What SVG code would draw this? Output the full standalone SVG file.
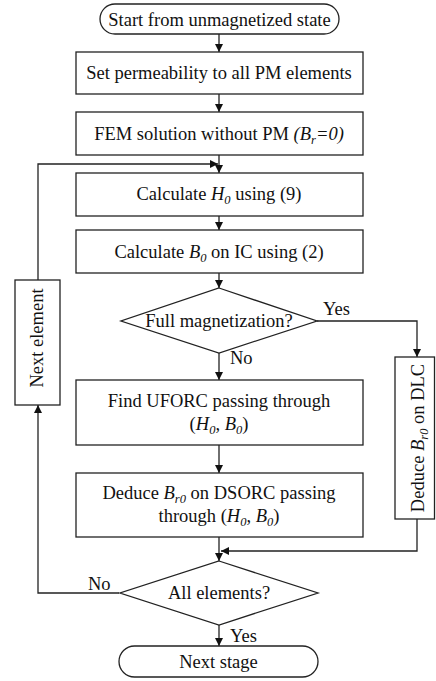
<svg xmlns="http://www.w3.org/2000/svg" width="436" height="681" viewBox="0 0 436 681">
  <defs>
    <marker id="arrow" viewBox="0 0 10 10" refX="10" refY="5" markerWidth="8" markerHeight="8" markerUnits="userSpaceOnUse" orient="auto">
      <path d="M0,0 L10,5 L0,10 z" fill="#111"/>
    </marker>
    <style>
      .shape { fill: #fff; stroke: #222; stroke-width: 1.3; }
      .line { fill: none; stroke: #222; stroke-width: 1.3; }
      .t { font-family: "Liberation Serif", "Times New Roman", serif; font-size: 18.5px; fill: #111; }
      .c { text-anchor: middle; }
      .i { font-style: italic; }
      .sub { font-size: 12.5px; font-style: italic; }
    </style>
  </defs>

  <rect width="436" height="681" fill="#fff"/>

  <!-- connectors -->
  <g id="connectors">
    <line class="line" x1="219" y1="34" x2="219" y2="52" marker-end="url(#arrow)"/>
    <line class="line" x1="219" y1="94" x2="219" y2="112" marker-end="url(#arrow)"/>
    <line class="line" x1="219" y1="155" x2="219" y2="173" marker-end="url(#arrow)"/>
    <line class="line" x1="219" y1="216" x2="219" y2="230" marker-end="url(#arrow)"/>
    <line class="line" x1="219" y1="273" x2="219" y2="288" marker-end="url(#arrow)"/>
    <line class="line" x1="219" y1="353" x2="219" y2="380" marker-end="url(#arrow)"/>
    <line class="line" x1="219" y1="445" x2="219" y2="473" marker-end="url(#arrow)"/>
    <line class="line" x1="219" y1="537" x2="219" y2="561" marker-end="url(#arrow)"/>
    <line class="line" x1="219" y1="625" x2="219" y2="646" marker-end="url(#arrow)"/>
    <!-- Yes branch to the DLC box -->
    <polyline class="line" points="317,321 417,321 417,357" marker-end="url(#arrow)"/>
    <!-- DLC box back to the merge point -->
    <polyline class="line" points="417,519 417,551 221,551" marker-end="url(#arrow)"/>
    <!-- No branch of the loop -->
    <polyline class="line" points="119,593 38,593 38,405" marker-end="url(#arrow)"/>
    <polyline class="line" points="38,280 38,164 218,164" marker-end="url(#arrow)"/>
    <text class="t" x="323" y="315">Yes</text>
    <text class="t" x="230" y="364">No</text>
    <text class="t" x="88" y="590">No</text>
    <text class="t" x="230" y="642">Yes</text>
  </g>

  <g id="start">
    <rect class="shape" x="100" y="4" width="239" height="30" rx="15" ry="15"/>
    <text class="t c" x="219.5" y="26">Start from unmagnetized state</text>
  </g>

  <g id="set-permeability">
    <rect class="shape" x="76" y="52" width="287" height="42"/>
    <text class="t c" x="219" y="79">Set permeability to all PM elements</text>
  </g>

  <g id="fem-solution">
    <rect class="shape" x="76" y="112" width="287" height="43"/>
    <text class="t c" x="219" y="140">FEM solution without PM <tspan class="i">(B</tspan><tspan class="sub" dy="4">r</tspan><tspan class="i" dy="-4">=0)</tspan></text>
  </g>

  <g id="calc-h0">
    <rect class="shape" x="76" y="173" width="287" height="43"/>
    <text class="t c" x="219" y="200">Calculate <tspan class="i">H</tspan><tspan class="sub" dy="4">0</tspan><tspan dy="-4"> using (9)</tspan></text>
  </g>

  <g id="calc-b0">
    <rect class="shape" x="76" y="230" width="287" height="43"/>
    <text class="t c" x="219" y="258">Calculate <tspan class="i">B</tspan><tspan class="sub" dy="4">0</tspan><tspan dy="-4"> on IC using (2)</tspan></text>
  </g>

  <g id="full-magnetization">
    <polygon class="shape" points="219,288 317,321 219,353 121,321"/>
    <text class="t c" x="219" y="327">Full magnetization?</text>
  </g>

  <g id="find-uforc">
    <rect class="shape" x="76" y="380" width="287" height="65"/>
    <text class="t c" x="219" y="407">Find UFORC passing through</text>
    <text class="t c" x="219" y="430">(<tspan class="i">H</tspan><tspan class="sub" dy="4">0</tspan><tspan dy="-4">, </tspan><tspan class="i">B</tspan><tspan class="sub" dy="4">0</tspan><tspan dy="-4">)</tspan></text>
  </g>

  <g id="deduce-dsorc">
    <rect class="shape" x="76" y="473" width="287" height="64"/>
    <text class="t c" x="219" y="499">Deduce <tspan class="i">B</tspan><tspan class="sub" dy="4">r0</tspan><tspan dy="-4"> on DSORC passing</tspan></text>
    <text class="t c" x="219" y="522">through (<tspan class="i">H</tspan><tspan class="sub" dy="4">0</tspan><tspan dy="-4">, </tspan><tspan class="i">B</tspan><tspan class="sub" dy="4">0</tspan><tspan dy="-4">)</tspan></text>
  </g>

  <g id="deduce-dlc">
    <rect class="shape" x="395" y="357" width="39.5" height="162"/>
    <text class="t c" transform="translate(424,438) rotate(-90)" x="0" y="0">Deduce <tspan class="i">B</tspan><tspan class="sub" dy="4">r0</tspan><tspan dy="-4"> on DLC</tspan></text>
  </g>

  <g id="next-element">
    <rect class="shape" x="15" y="280" width="45" height="125"/>
    <text class="t c" transform="translate(43,338) rotate(-90)" x="0" y="0">Next element</text>
  </g>

  <g id="all-elements">
    <polygon class="shape" points="219,561 318,593 219,625 120,593"/>
    <text class="t c" x="219" y="599">All elements?</text>
  </g>

  <g id="next-stage">
    <rect class="shape" x="119" y="646" width="199" height="31" rx="15.5" ry="15.5"/>
    <text class="t c" x="218.5" y="668">Next stage</text>
  </g>
</svg>
